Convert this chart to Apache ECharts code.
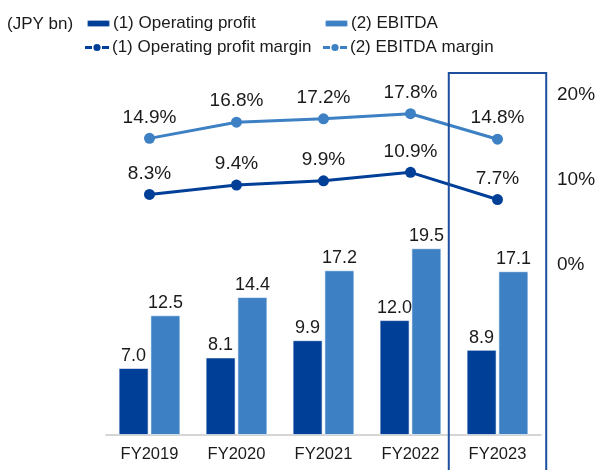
<!DOCTYPE html>
<html>
<head>
<meta charset="utf-8">
<script src="https://cdn.jsdelivr.net/npm/echarts@6/dist/echarts.min.js"></script>
<style>
  html, body { margin: 0; padding: 0; background: #fff; }
  #main { width: 600px; height: 470px; }
</style>
</head>
<body>
<div id="main"></div>
<script>
// data
const years = ['FY2019', 'FY2020', 'FY2021', 'FY2022', 'FY2023'];
const opProfit = [7.0, 8.1, 9.9, 12.0, 8.9];
const ebitda = [12.5, 14.4, 17.2, 19.5, 17.1];
const opMargin = [8.3, 9.4, 9.9, 10.9, 7.7];
const ebitdaMargin = [14.9, 16.8, 17.2, 17.8, 14.8];

const DARK = '#003f97';
const LIGHT = '#3d81c4';
const TEXT = '#1a1a1a';
const FONT = 'Liberation Sans, Arial, sans-serif';

// dash - dot - dash legend mark for the margin lines
const LINE_ICON = 'path://M0,2.6h7v2.8h-7z M17,2.6h7v2.8h-7z M8.4,4a3.6,3.6 0 1,0 7.2,0a3.6,3.6 0 1,0 -7.2,0z';

const chart = echarts.init(document.getElementById('main'));

function legendAt(name, left, top, isLine) {
  return {
    data: isLine ? [{ name: name, icon: LINE_ICON }] : [name],
    left: left,
    top: top,
    itemWidth: isLine ? 24 : 23,
    itemHeight: isLine ? 8 : 7,
    itemGap: 0,
    padding: 0,
    selectedMode: false,
    textStyle: { color: TEXT, fontSize: 17, fontFamily: FONT, padding: [0, 0, 0, -2] }
  };
}

const option = {
  animation: false,
  textStyle: { fontFamily: FONT },
  title: {
    text: '(JPY bn)',
    left: 2,
    top: 11,
    textStyle: { color: TEXT, fontSize: 17, fontWeight: 'normal', fontFamily: FONT }
  },
  legend: [
    legendAt('(1) Operating profit', 86, 15, false),
    legendAt('(2) EBITDA', 324, 15, false),
    legendAt('(1) Operating profit margin', 85, 39, true),
    legendAt('(2) EBITDA margin', 323, 39, true)
  ],
  grid: { left: 106, right: 59, top: 95, bottom: 35 },
  xAxis: {
    type: 'category',
    data: years,
    axisTick: { show: false },
    axisLine: { lineStyle: { color: '#c8c8c8', width: 1.5 } },
    axisLabel: { color: TEXT, fontSize: 16.5, margin: 11 }
  },
  yAxis: [{
    type: 'value',
    min: 0,
    max: 35.5,
    show: false,
    splitLine: { show: false }
  }, {
    type: 'value',
    min: -20,
    max: 20,
    interval: 10,
    position: 'right',
    splitLine: { show: false },
    axisLine: { show: false },
    axisTick: { show: false },
    axisLabel: {
      color: TEXT,
      fontSize: 19,
      margin: 16,
      formatter: v => (v >= 0 ? v + '%' : '')
    }
  }],
  series: [{
    name: '(1) Operating profit',
    type: 'bar',
    data: opProfit,
    barWidth: 30,
    barGap: '6%',
    itemStyle: { color: DARK, borderColor: 'rgba(255,255,255,0.6)', borderWidth: 1 },
    label: {
      show: true, position: 'top', distance: 3,
      color: TEXT, fontSize: 18,
      formatter: p => p.value.toFixed(1)
    }
  }, {
    name: '(2) EBITDA',
    type: 'bar',
    data: ebitda,
    barWidth: 30,
    itemStyle: { color: LIGHT, borderColor: 'rgba(255,255,255,0.6)', borderWidth: 1 },
    label: {
      show: true, position: 'top', distance: 3,
      color: TEXT, fontSize: 18,
      formatter: p => p.value.toFixed(1)
    }
  }, {
    name: '(1) Operating profit margin',
    type: 'line',
    yAxisIndex: 1,
    data: opMargin,
    symbol: 'circle',
    symbolSize: 11,
    lineStyle: { color: DARK, width: 3 },
    itemStyle: { color: DARK },
    label: {
      show: true, position: 'top', distance: 6,
      color: TEXT, fontSize: 19,
      formatter: p => p.value.toFixed(1) + '%'
    }
  }, {
    name: '(2) EBITDA margin',
    type: 'line',
    yAxisIndex: 1,
    data: ebitdaMargin,
    symbol: 'circle',
    symbolSize: 11,
    lineStyle: { color: LIGHT, width: 3 },
    itemStyle: { color: LIGHT },
    label: {
      show: true, position: 'top', distance: 6,
      color: TEXT, fontSize: 19,
      formatter: p => p.value.toFixed(1) + '%'
    }
  }]
};

chart.setOption(option);

// highlight box around the latest year
const last = years[years.length - 1];
const cx = chart.convertToPixel({ xAxisIndex: 0 }, last);
const bw = cx - chart.convertToPixel({ xAxisIndex: 0 }, years[years.length - 2]);
const topY = chart.convertToPixel({ yAxisIndex: 1 }, 22.6);
chart.setOption({
  graphic: [{
    type: 'rect',
    shape: { x: cx - 0.56 * bw, y: topY, width: 1.12 * bw, height: 480 - topY },
    style: { fill: 'none', stroke: '#1d4f9e', lineWidth: 2 },
    z: 10
  }]
});
</script>
</body>
</html>
